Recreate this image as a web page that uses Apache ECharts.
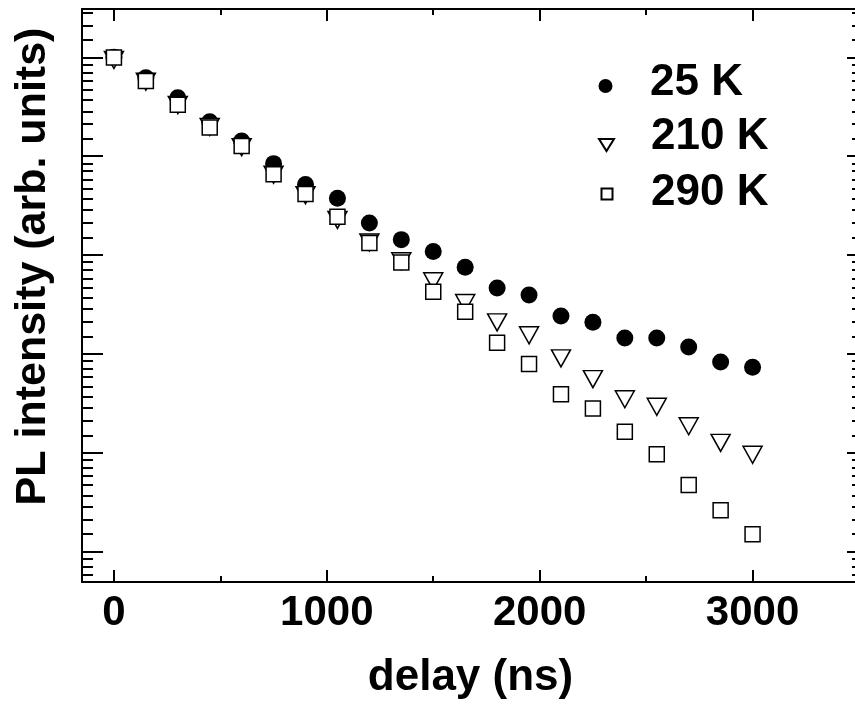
<!DOCTYPE html>
<html>
<head>
<meta charset="utf-8">
<script src="https://cdn.jsdelivr.net/npm/echarts@6/dist/echarts.min.js"></script>
<style>
html,body{margin:0;padding:0;background:#fff;}
#chart{width:855px;height:718px;}
</style>
</head>
<body>
<div id="chart"></div>
<script>
// ---- data ----
const delays = [0,150,300,450,600,750,900,1050,1200,1350,1500,1650,1800,1950,2100,2250,2400,2550,2700,2850,3000];
const pl25K  = [1.00,0.813,0.664,0.521,0.429,0.341,0.276,0.240,0.187,0.158,0.140,0.1195,0.0968,0.0902,0.0729,0.0684,0.0584,0.0584,0.0533,0.0458,0.0434];
const pl210K = [0.973,0.781,0.617,0.494,0.403,0.305,0.248,0.193,0.1535,0.127,0.1036,0.0832,0.0684,0.0600,0.0475,0.0385,0.0314,0.0291,0.0239,0.0202,0.0179];
const pl290K = [0.998,0.787,0.619,0.491,0.408,0.306,0.251,0.199,0.1526,0.1253,0.0933,0.0762,0.0557,0.0449,0.0330,0.0286,0.0226,0.0180,0.0132,0.0102,0.0080];
const seriesNames = ['25 K','210 K','290 K'];
const xTickLabels = ['0','1000','2000','3000'];
const xRange = [-150, 3500];
const yRange = [0.00494, 1.631];
const xTitle = 'delay (ns)';
const yTitle = 'PL intensity (arb. units)';

const FONT = "'Liberation Sans', Arial, Helvetica, sans-serif";
const pairs = arr => delays.map((d,i)=>[d,arr[i]]);

const lineStyle = {color:'#000', width:2};
function xAxisCfg(pos, showLabels){
  return {
    type:'value', position:pos, min:xRange[0], max:xRange[1], splitNumber:4,
    axisLine:{show:true, onZero:false, lineStyle:lineStyle},
    axisTick:{show:true, inside:true, length:12, lineStyle:{color:'#000', width:2}},
    minorTick:{show:true, splitNumber:2, length:6, lineStyle:{color:'#000', width:2}},
    splitLine:{show:false},
    axisLabel:{show:showLabels, showMinLabel:false, showMaxLabel:false, margin:10,
      fontFamily:FONT, fontWeight:'bold', fontSize:42, color:'#000',
      formatter: v => xTickLabels.indexOf(String(v))>=0 ? String(v) : ''},
    name: showLabels ? xTitle : '', nameLocation:'middle', nameGap:74,
    nameTextStyle:{fontFamily:FONT, fontWeight:'bold', fontSize:44, color:'#000'}
  };
}
function yAxisCfg(pos, major, minor, withName){
  return {
    type:'log', logBase:Math.E, position:pos, min:yRange[0], max:yRange[1],
    axisLine:{show:true, onZero:false, lineStyle:lineStyle},
    axisTick:{show:true, inside:true, length:major, lineStyle:{color:'#000', width:2}},
    minorTick:{show:true, splitNumber:9, length:minor, lineStyle:{color:'#000', width:2}},
    splitLine:{show:false}, minorSplitLine:{show:false},
    axisLabel:{show:false},
    name: withName ? yTitle : '', nameLocation:'middle', nameRotate:90, nameGap:27,
    nameTextStyle:{fontFamily:FONT, fontWeight:'bold', fontSize:43, color:'#000', padding:[0,0,0,58]}
  };
}

const legendText = padLeft => ({fontFamily:FONT, fontWeight:'bold', fontSize:44, color:'#000', padding:[0,0,0,padLeft]});
const legendBase = {orient:'vertical', padding:0, itemGap:0, symbolKeepAspect:true};
// legend icons: the leading moves only fix the icon box, so each mark sits a little below the text middle
const iconCircle = 'path://M0,0M14,20M0,13A7,7,0,1,0,14,13A7,7,0,1,0,0,13Z';
const iconTriDown = 'path://M0,0M15,28M0,16L15,16L7.5,28Z';
const iconSquare = 'path://M0,0M11,13M0,2L11,2L11,13L0,13Z';

const option = {
  backgroundColor:'#fff',
  animation:false,
  grid:{left:82, top:9, right:-4, bottom:136, containLabel:false, outerBoundsMode:'none'},
  xAxis:[xAxisCfg('bottom', true), xAxisCfg('top', false)],
  yAxis:[yAxisCfg('left', 21, 11, true), yAxisCfg('right', 12, 7, false)],
  legend:[
    Object.assign({}, legendBase, {data:[{name:seriesNames[0], icon:iconCircle}], left:598.5, top:61, itemWidth:14, itemHeight:20, textStyle:legendText(32.5)}),
    Object.assign({}, legendBase, {data:[{name:seriesNames[1], icon:iconTriDown}], left:598, top:115, itemWidth:15, itemHeight:28, textStyle:legendText(32)}),
    Object.assign({}, legendBase, {data:[{name:seriesNames[2], icon:iconSquare}], left:600.5, top:171, itemWidth:11, itemHeight:13, textStyle:legendText(33.5)})
  ],
  series:[
    {name:seriesNames[0], type:'scatter', data:pairs(pl25K), symbol:'circle', symbolSize:17,
     itemStyle:{color:'#000', borderColor:'#000', borderWidth:0, opacity:1}, z:2},
    {name:seriesNames[1], type:'scatter', data:pairs(pl210K), symbol:'triangle', symbolSize:[19,17], symbolRotate:180,
     itemStyle:{color:'#fff', borderColor:'#000', borderWidth:1.5, opacity:1}, z:3},
    {name:seriesNames[2], type:'scatter', data:pairs(pl290K), symbol:'rect', symbolSize:15,
     itemStyle:{color:'#fff', borderColor:'#000', borderWidth:1.5, opacity:1}, z:4}
  ]
};
const chart = echarts.init(document.getElementById('chart'), null, {renderer:'canvas'});
chart.setOption(option);
</script>
</body>
</html>
